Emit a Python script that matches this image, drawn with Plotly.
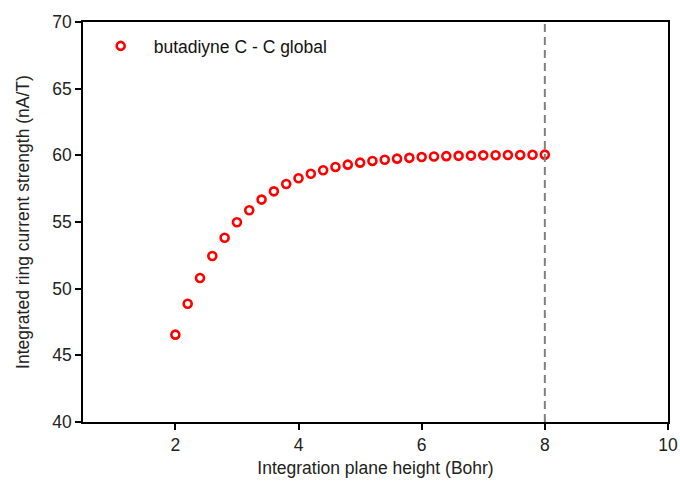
import plotly.graph_objects as go

heights = [2.0, 2.2, 2.4, 2.6, 2.8, 3.0, 3.2, 3.4, 3.6, 3.8, 4.0, 4.2, 4.4, 4.6, 4.8,
           5.0, 5.2, 5.4, 5.6, 5.8, 6.0, 6.2, 6.4, 6.6, 6.8, 7.0, 7.2, 7.4, 7.6, 7.8, 8.0]
strength = [46.55, 48.87, 50.8, 52.45, 53.82, 54.98, 55.88, 56.68, 57.3, 57.85, 58.28,
            58.62, 58.88, 59.13, 59.3, 59.45, 59.58, 59.67, 59.75, 59.81, 59.87, 59.91,
            59.94, 59.96, 59.98, 60.0, 60.01, 60.02, 60.03, 60.04, 60.05]
cutoff = 8
series_name = "butadiyne C - C global"

FONT = "Liberation Sans, Arial, sans-serif"
FS = 17.5

fig = go.Figure()
fig.add_trace(go.Scatter(
    x=heights, y=strength, mode="markers", name=series_name,
    marker=dict(symbol="circle-open", size=8, color="red", line=dict(width=2.6, color="red")),
))

fig.add_vline(x=cutoff, line=dict(color="#808080", width=2, dash="8px,5px"))

fig.update_layout(
    width=680, height=488,
    margin=dict(l=83, r=12, t=22, b=66, autoexpand=False),
    paper_bgcolor="white", plot_bgcolor="white",
    font=dict(family=FONT, size=FS, color="#222222"),
    showlegend=True,
    legend=dict(x=0.008, y=0.985, xanchor="left", yanchor="top",
                bgcolor="rgba(0,0,0,0)", itemwidth=56,
                font=dict(family=FONT, size=FS, color="#111111")),
)
fig.update_xaxes(
    range=[0.5, 10], tickvals=[2, 4, 6, 8, 10], automargin=False,
    showline=True, linecolor="black", linewidth=1.5, mirror=True,
    ticks="outside", ticklen=6, tickwidth=1.5, tickcolor="black",
    showgrid=False, zeroline=False,
    title=dict(text="Integration plane height (Bohr)", standoff=8,
               font=dict(family=FONT, size=FS)),
    tickfont=dict(family=FONT, size=FS),
)
fig.update_yaxes(
    range=[40, 70], dtick=5, tick0=40, automargin=False,
    showline=True, linecolor="black", linewidth=1.5, mirror=True,
    ticks="outside", ticklen=6, tickwidth=1.5, tickcolor="black",
    showgrid=False, zeroline=False,
    title=dict(text="Integrated ring current strength (nA/T)", standoff=18,
               font=dict(family=FONT, size=FS)),
    tickfont=dict(family=FONT, size=FS),
)

fig.write_html("out.html")
